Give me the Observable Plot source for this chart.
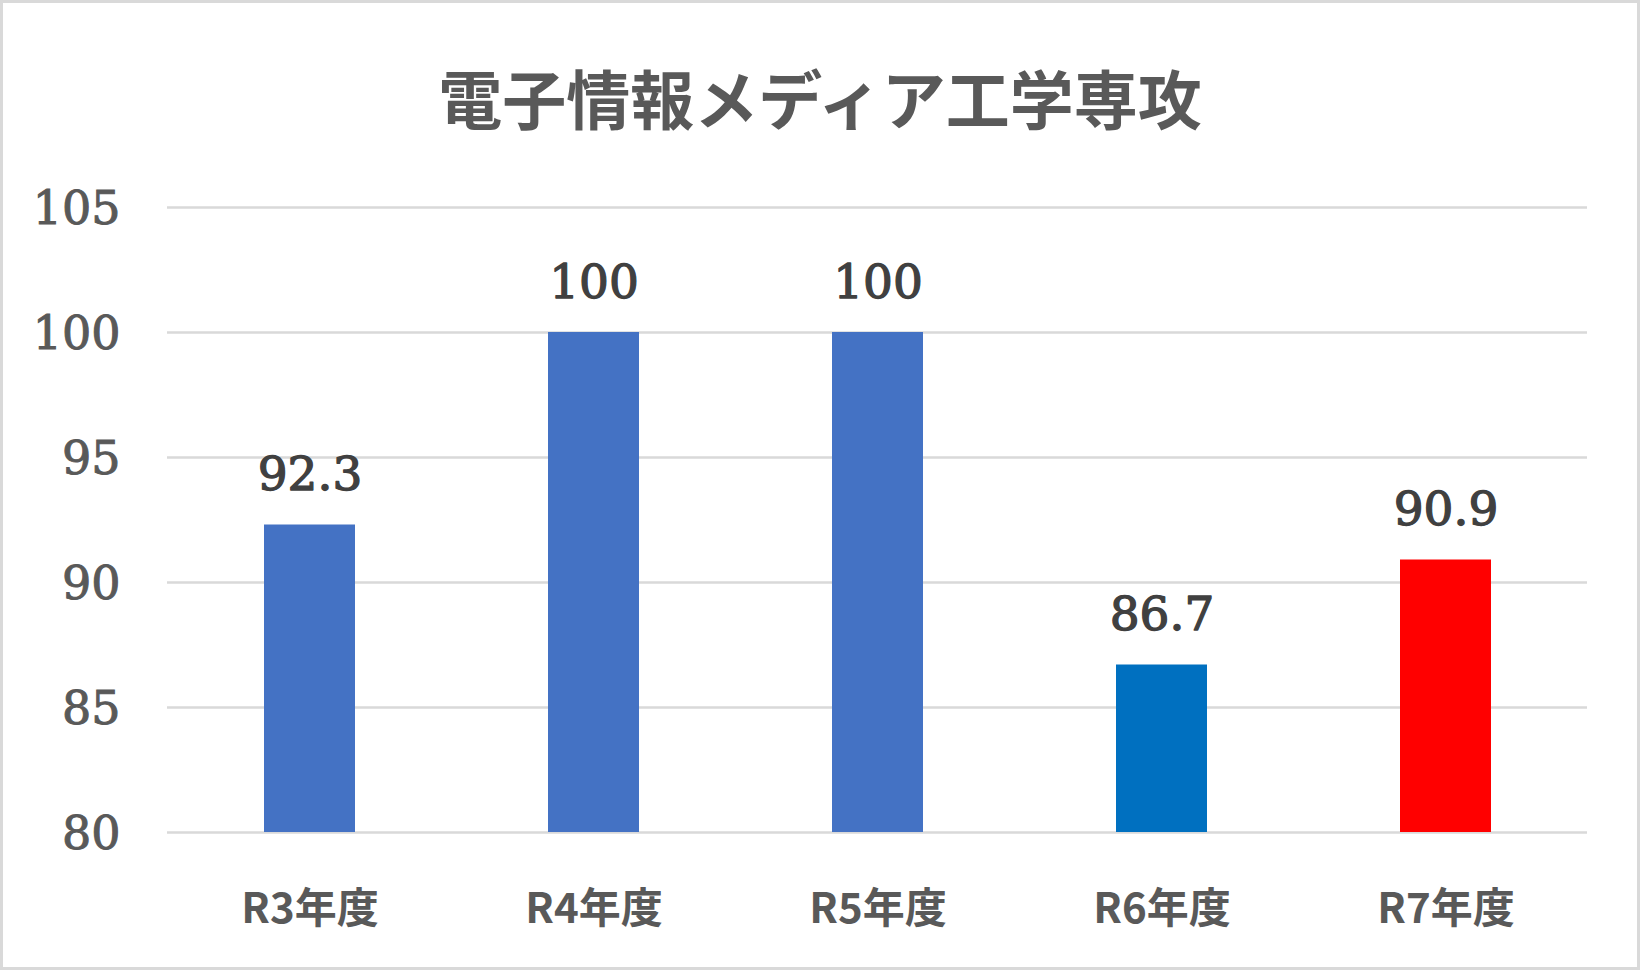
<!DOCTYPE html>
<html>
<head>
<meta charset="utf-8">
<script src="https://cdn.jsdelivr.net/npm/d3@7"></script>
<script src="https://cdn.jsdelivr.net/npm/@observablehq/plot@0.6"></script>
<style>
  html, body { margin: 0; padding: 0; background: #fff; }
  #wrap { position: relative; width: 1640px; height: 970px; background: #fff; overflow: hidden; }
  #frame { position: absolute; left: 0; top: 0; width: 1640px; height: 970px; box-sizing: border-box; border: 3px solid #D9D9D9; pointer-events: none; }
  #title { position: absolute; left: 0; top: 63px; width: 1640px; text-align: center; font-family: "Noto Sans CJK JP", sans-serif; font-weight: 700; font-size: 64px; line-height: 66px; color: #595959; }
  #chart { position: absolute; left: 0; top: 0; }
  g[aria-label="y-axis tick label"] text { stroke: #595959; stroke-width: 1px; }
</style>
</head>
<body>
<div id="wrap">
  <div id="chart"></div>
  <div id="title">電子情報メディア工学専攻</div>
  <div id="frame"></div>
</div>
<script>
const categories = ["R3年度", "R4年度", "R5年度", "R6年度", "R7年度"];
const values = [92.3, 100, 100, 86.7, 90.9];
const valueLabels = ["92.3", "100", "100", "86.7", "90.9"];
const yTicks = [80, 85, 90, 95, 100, 105];
const barColors = ["#4472C4", "#4472C4", "#4472C4", "#0070C0", "#FF0000"];

const yMin = yTicks[0];
const yMax = yTicks[yTicks.length - 1];
const data = categories.map((c, i) => ({ cat: c, value: values[i], label: valueLabels[i], base: yMin }));

const chart = Plot.plot({
  width: 1640,
  height: 970,
  marginTop: 207,
  marginBottom: 138,
  marginLeft: 167,
  marginRight: 53,
  style: { background: "transparent" },
  x: { domain: categories, paddingInner: 0.68, paddingOuter: 0.34, axis: null },
  y: { domain: [yMin, yMax], axis: null },
  color: { domain: categories, range: barColors },
  marks: [
    Plot.gridY(yTicks, { stroke: "#D9D9D9", strokeOpacity: 1, strokeWidth: 2.5 }),
    Plot.barY(data, { x: "cat", y1: "base", y2: "value", fill: "cat" }),
    Plot.text(data, {
      x: "cat", y: "value", text: "label",
      lineAnchor: "bottom", dy: -35,
      fontSize: 47, fontFamily: "DejaVu Serif", fill: "#404040",
      stroke: "#404040", strokeWidth: 1.3
    }),
    Plot.axisY(yTicks, {
      tickSize: 0, tickPadding: 47, dy: 2,
      fontSize: 46, fontFamily: "DejaVu Serif", color: "#595959",
      tickFormat: d => String(d), label: null
    }),
    Plot.axisX({
      tickSize: 0, tickPadding: 61, label: null,
      fontSize: 42, fontFamily: "Noto Sans CJK JP", fontWeight: 700, color: "#595959"
    })
  ]
});
document.getElementById("chart").appendChild(chart);
</script>
</body>
</html>
